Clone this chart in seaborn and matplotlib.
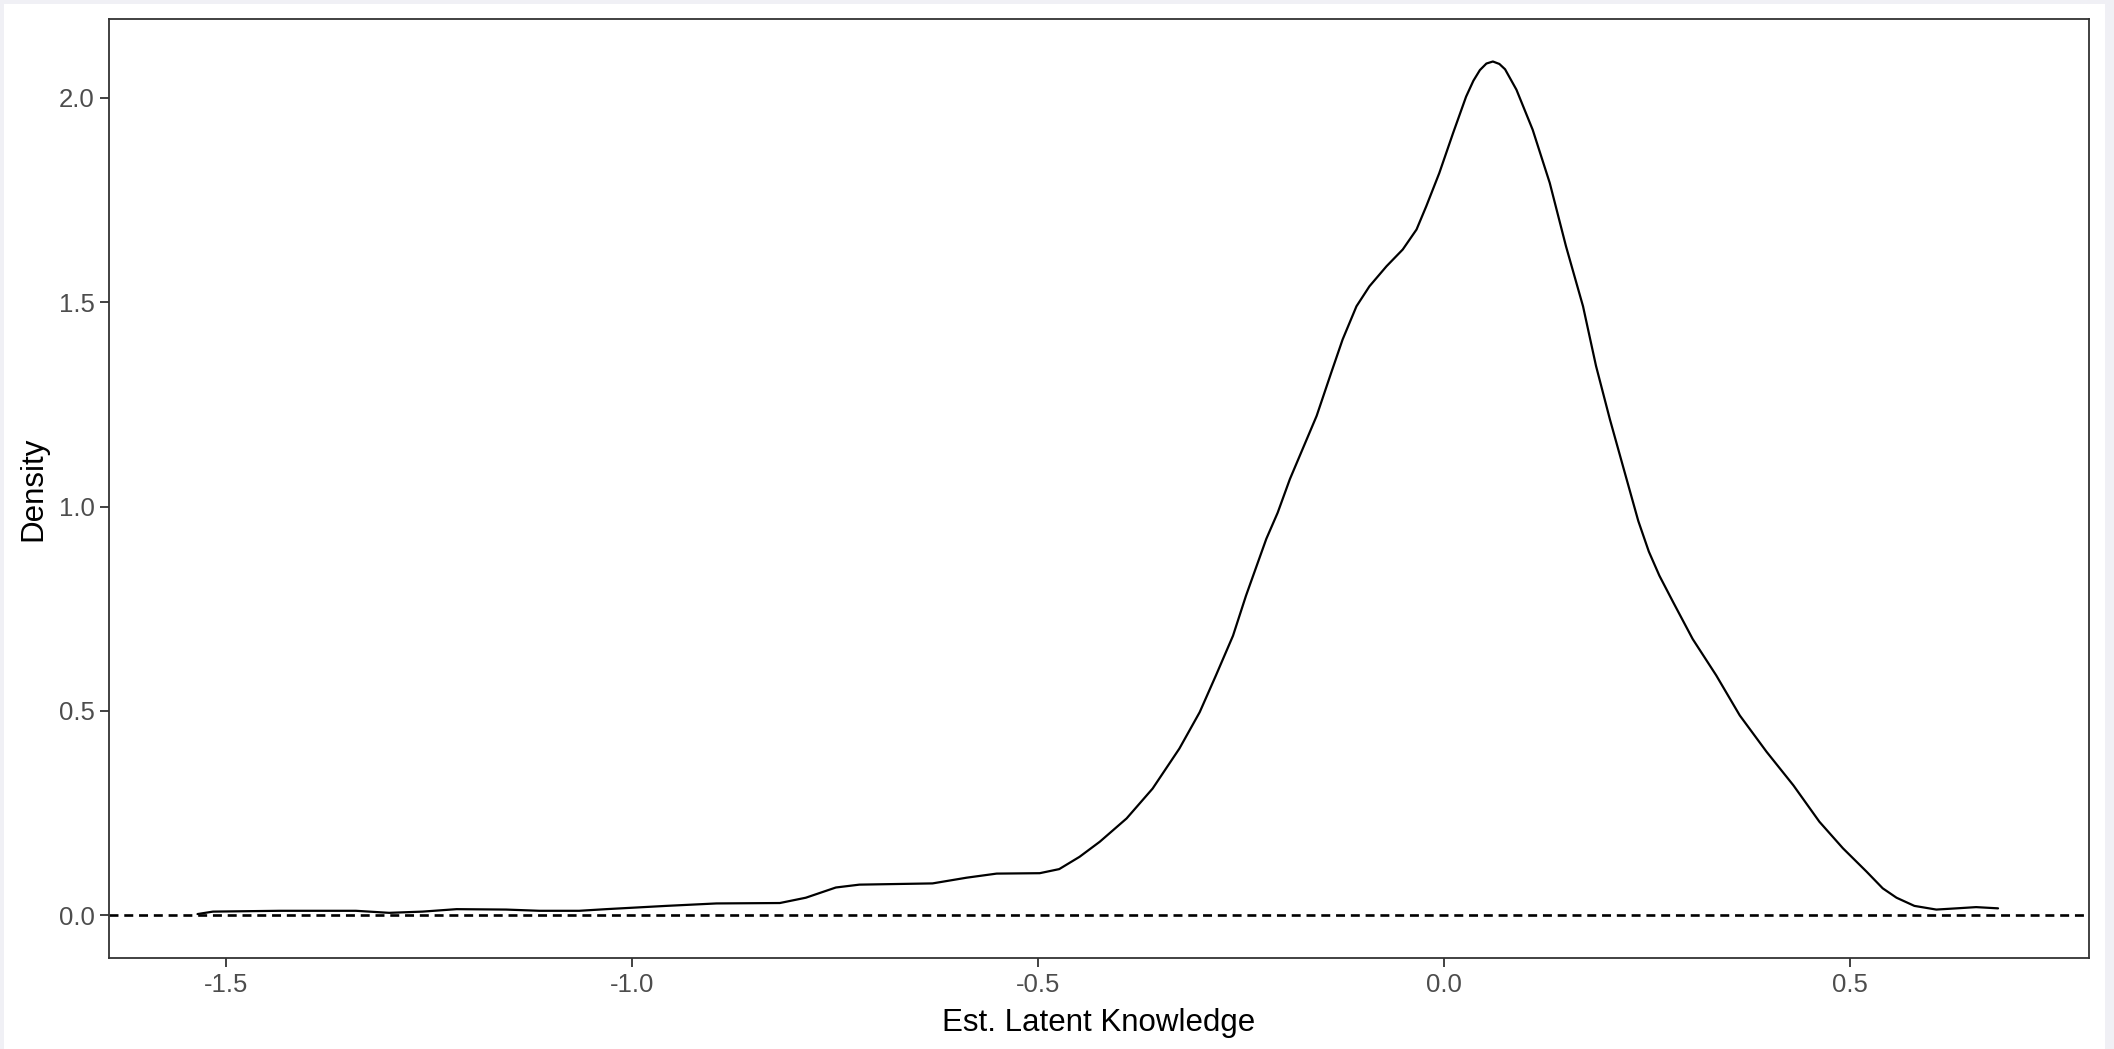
import matplotlib
matplotlib.use("Agg")
import matplotlib.pyplot as plt
from matplotlib.patches import Rectangle
import pandas as pd
import seaborn as sns

# Estimated density of latent knowledge scores
knowledge = [
    -1.535, -1.516, -1.434, -1.340, -1.299, -1.258, -1.216, -1.155, -1.114,
    -1.065, -1.032, -0.995, -0.958, -0.896, -0.818, -0.786, -0.749, -0.720,
    -0.630, -0.588, -0.551, -0.498, -0.474, -0.449, -0.424, -0.391, -0.359,
    -0.326, -0.301, -0.281, -0.260, -0.244, -0.219, -0.205, -0.190, -0.157,
    -0.139, -0.125, -0.108, -0.092, -0.071, -0.051, -0.034, -0.022, -0.006,
    0.011, 0.027, 0.036, 0.044, 0.052, 0.060, 0.068, 0.075, 0.089, 0.109,
    0.130, 0.150, 0.171, 0.187, 0.204, 0.220, 0.239, 0.252, 0.265, 0.282,
    0.306, 0.335, 0.364, 0.397, 0.430, 0.462, 0.491, 0.520, 0.540, 0.557,
    0.579, 0.606, 0.631, 0.655, 0.682,
]
density = [
    0.003, 0.009, 0.011, 0.011, 0.006, 0.009, 0.015, 0.014, 0.011,
    0.011, 0.015, 0.019, 0.023, 0.029, 0.030, 0.043, 0.068, 0.075,
    0.078, 0.092, 0.102, 0.103, 0.113, 0.143, 0.180, 0.237, 0.310,
    0.408, 0.497, 0.587, 0.684, 0.782, 0.921, 0.985, 1.067, 1.222,
    1.328, 1.409, 1.490, 1.539, 1.588, 1.629, 1.678, 1.735, 1.816,
    1.914, 2.003, 2.042, 2.068, 2.084, 2.089, 2.083, 2.070, 2.020, 1.922,
    1.792, 1.637, 1.490, 1.344, 1.214, 1.100, 0.965, 0.890, 0.831, 0.766,
    0.676, 0.587, 0.489, 0.400, 0.318, 0.229, 0.164, 0.107, 0.066, 0.043,
    0.023, 0.014, 0.017, 0.020, 0.017,
]

x_ticks = [-1.5, -1.0, -0.5, 0.0, 0.5]
x_tick_labels = ["-1.5", "-1.0", "-0.5", "0.0", "0.5"]
y_ticks = [0.0, 0.5, 1.0, 1.5, 2.0]
y_tick_labels = ["0.0", "0.5", "1.0", "1.5", "2.0"]
x_title = "Est. Latent Knowledge"
y_title = "Density"

sns.set_theme(style="white")
plt.rcParams["font.family"] = ["Liberation Sans", "DejaVu Sans"]

df = pd.DataFrame({"knowledge": knowledge, "density": density})

fig = plt.figure(figsize=(21.14, 10.49), dpi=100)
fig.patch.set_facecolor("#F0F0F5")
# white page inside a thin tinted margin
page = Rectangle((4 / 2114, 0), (2105 - 4) / 2114, 1 - 4 / 1049,
                 transform=fig.transFigure, facecolor="white",
                 edgecolor="none", zorder=-10)
fig.patches.append(page)

ax = fig.add_axes([109 / 2114, 91 / 1049, (2089 - 109) / 2114, (958 - 19) / 1049])
ax.set_zorder(1)
ax.set_facecolor("white")

ax.axhline(0, color="black", lw=1.9, linestyle=(0, (3.4, 2.2)), zorder=1)
sns.lineplot(data=df, x="knowledge", y="density", ax=ax, color="black",
             lw=1.6, sort=True, estimator=None, zorder=2)

ax.set_xlim(-1.644, 0.794)
ax.set_ylim(-0.1045, 2.193)
ax.set_xticks(x_ticks)
ax.set_xticklabels(x_tick_labels)
ax.set_yticks(y_ticks)
ax.set_yticklabels(y_tick_labels)
ax.tick_params(axis="both", which="major", length=6.5, width=1.3,
               color="#333333", labelcolor="#4D4D4D", labelsize=18.5, pad=4,
               bottom=True, left=True)
ax.set_xlabel(x_title, fontsize=22.5, color="black", labelpad=8)
ax.set_ylabel(y_title, fontsize=22.5, color="black", labelpad=7)
for spine in ax.spines.values():
    spine.set_visible(True)
    spine.set_color("#333333")
    spine.set_linewidth(1.3)
ax.grid(False)

fig.savefig("out.png", dpi=100, facecolor=fig.get_facecolor())
